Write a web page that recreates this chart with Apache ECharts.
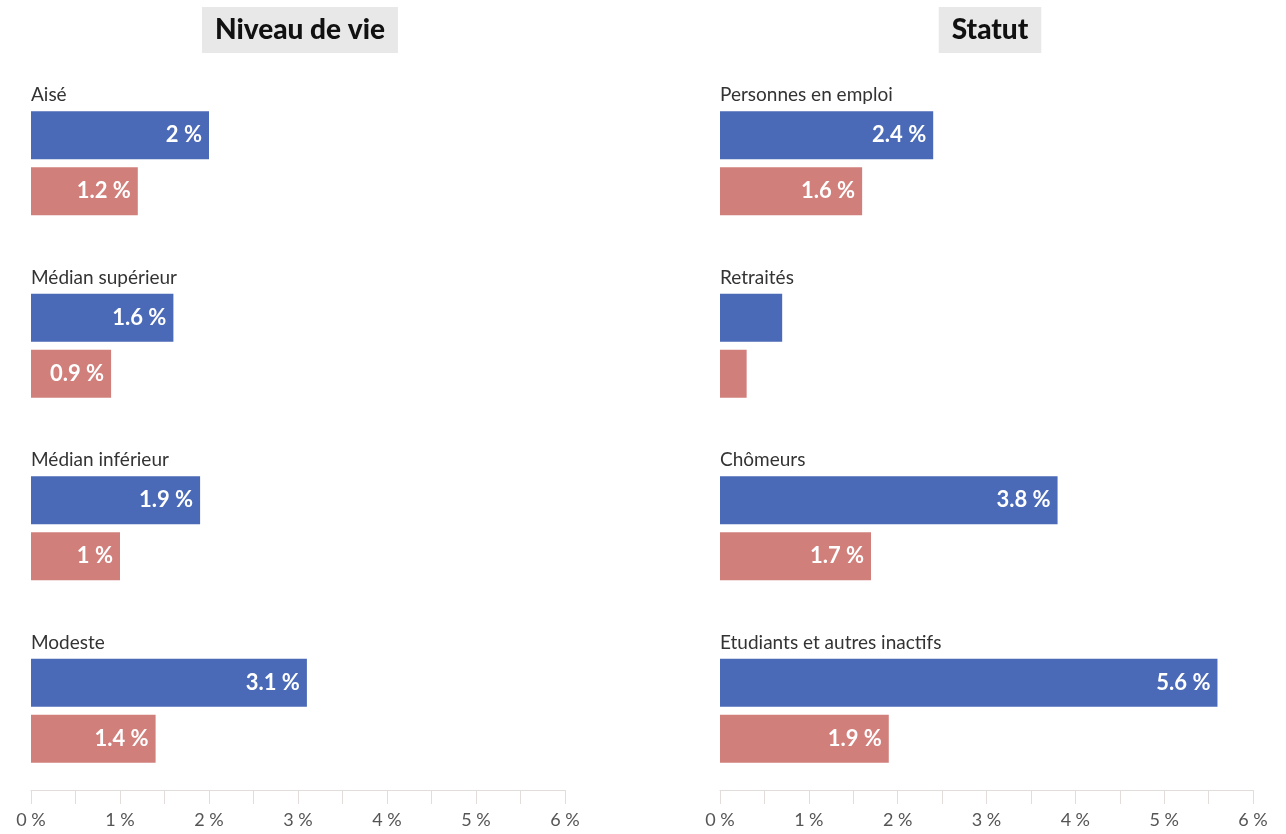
<!DOCTYPE html>
<html>
<head>
<meta charset="utf-8">
<script src="https://cdn.jsdelivr.net/npm/echarts@6/dist/echarts.min.js"></script>
<style>
  html, body { margin: 0; padding: 0; background: #fff; }
  #chart { width: 1286px; height: 834px; }
</style>
</head>
<body>
<div id="chart"></div>
<script>
// Panel titles
const panelTitles = ['Niveau de vie', 'Statut'];

// Categories per panel (top to bottom)
const niveauCategories = ['Aisé', 'Médian supérieur', 'Médian inférieur', 'Modeste'];
const statutCategories = ['Personnes en emploi', 'Retraités', 'Chômeurs', 'Etudiants et autres inactifs'];

// Values, in %
const niveauBlue = [2, 1.6, 1.9, 3.1];
const niveauPink = [1.2, 0.9, 1, 1.4];
const statutBlue = [2.4, 0.7, 3.8, 5.6];
const statutPink = [1.6, 0.3, 1.7, 1.9];

// X axis ticks (labels on whole percents)
const tickValues = [0, 1, 2, 3, 4, 5, 6];

const BLUE = '#4a69b7';
const PINK = '#d17f7b';
const FONT = 'Lato, "Noto Sans", sans-serif';

const chart = echarts.init(document.getElementById('chart'));

function items(values) {
  return values.map(v => ({
    value: v,
    label: { show: v >= 0.8 }
  }));
}

function xAxis(idx) {
  return {
    type: 'value',
    gridIndex: idx,
    min: 0,
    max: tickValues[tickValues.length - 1],
    interval: 0.5,
    offset: -12,
    splitLine: { show: false },
    axisLine: { show: true, lineStyle: { color: '#e2dcda', width: 1 } },
    axisTick: { show: true, length: 14, lineStyle: { color: '#e2dcda' } },
    axisLabel: {
      margin: 21,
      color: '#555',
      fontSize: 18,
      fontFamily: FONT,
      formatter: v => (tickValues.indexOf(v) >= 0 ? v + '\u202f%' : '')
    }
  };
}

// Category names sit above each pair of bars: a tall empty second line
// lifts the name off the band centre.
function yAxis(idx, cats) {
  return {
    type: 'category',
    gridIndex: idx,
    data: cats,
    inverse: true,
    axisLine: { show: false },
    axisTick: { show: false },
    axisLabel: {
      inside: true,
      margin: 0,
      align: 'left',
      verticalAlign: 'middle',
      formatter: v => '{t|' + v + '}\n{s|}',
      rich: {
        t: { color: '#333', fontSize: 19, fontFamily: FONT, lineHeight: 20 },
        s: { height: 136, lineHeight: 136 }
      }
    }
  };
}

function barSeries(idx, values, color) {
  return {
    type: 'bar',
    xAxisIndex: idx,
    yAxisIndex: idx,
    data: items(values),
    barWidth: 48,
    barGap: '17%',
    itemStyle: { color: color },
    label: {
      position: 'insideRight',
      distance: 7,
      color: '#fff',
      fontSize: 22,
      fontWeight: 'bold',
      fontFamily: FONT,
      formatter: p => p.value + ' %'
    },
    emphasis: { disabled: true }
  };
}

const titleStyle = {
  fontSize: 28,
  fontWeight: 900,
  color: '#111',
  fontFamily: FONT
};

chart.setOption({
  animation: false,
  backgroundColor: '#fff',
  title: [
    {
      text: panelTitles[0], left: 287, top: 7, textAlign: 'center',
      backgroundColor: '#e8e8e8', padding: [9, 13, 9, 13], textStyle: titleStyle
    },
    {
      text: panelTitles[1], left: 977, top: 7, textAlign: 'center',
      backgroundColor: '#e8e8e8', padding: [9, 13, 9, 13], textStyle: titleStyle
    }
  ],
  grid: [
    { left: 31, right: 721, top: 72, bottom: 32 },
    { left: 720, right: 33, top: 72, bottom: 32 }
  ],
  xAxis: [xAxis(0), xAxis(1)],
  yAxis: [yAxis(0, niveauCategories), yAxis(1, statutCategories)],
  series: [
    barSeries(0, niveauBlue, BLUE),
    barSeries(0, niveauPink, PINK),
    barSeries(1, statutBlue, BLUE),
    barSeries(1, statutPink, PINK)
  ]
});
</script>
</body>
</html>
